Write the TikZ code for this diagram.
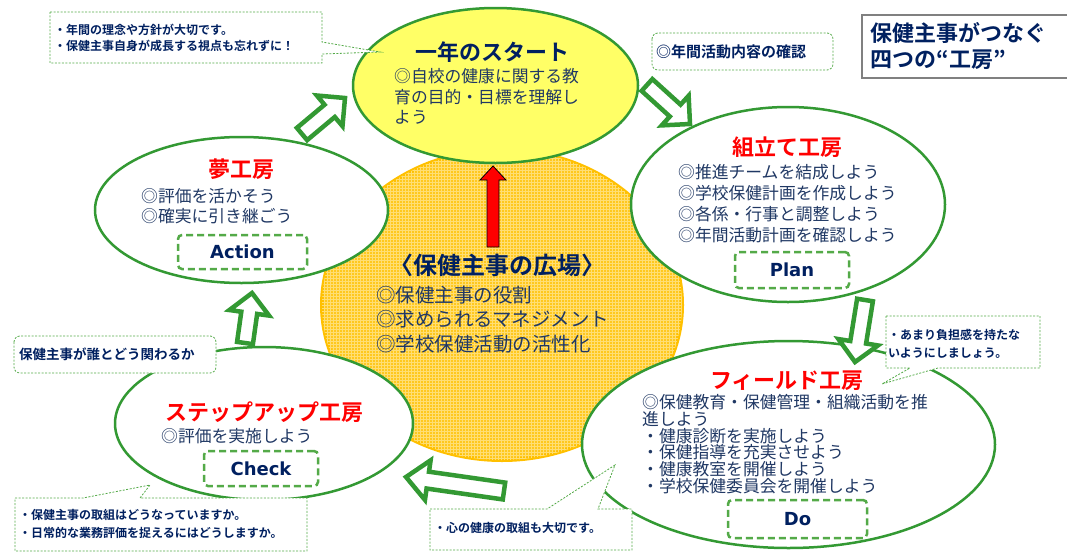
\documentclass[tikz,border=0pt]{standalone}
\usepackage{fontspec}
\setmainfont{Noto Sans CJK JP}[BoldFont={Noto Sans CJK JP Bold}]
\newfontfamily\pdcafont{DejaVu Sans}
\usetikzlibrary{calc,shapes.geometric,patterns}
\definecolor{navy}{RGB}{0,32,96}
\definecolor{textblue}{RGB}{32,56,100}
\definecolor{kgreen}{RGB}{51,153,51}
\definecolor{dgreen}{RGB}{84,170,72}
\definecolor{plazafill}{RGB}{255,200,30}
\definecolor{plazagrid}{RGB}{255,222,115}
\definecolor{plazaline}{RGB}{255,192,0}
\definecolor{startfill}{RGB}{255,255,102}

% block arrow: [style]{tail}{tip}{shaft half width}{head half width}{head length}
\newcommand{\blockarrow}[6][]{%
  \coordinate (neck) at ($(#3)!#6pt!(#2)$);
  \draw[#1] ($(#2)!#4pt!90:(#3)$) -- ($(neck)!#4pt!90:(#3)$) -- ($(neck)!#5pt!90:(#3)$) -- (#3)
    -- ($(neck)!#5pt!-90:(#3)$) -- ($(neck)!#4pt!-90:(#3)$) -- ($(#2)!#4pt!-90:(#3)$) -- cycle;}

\begin{document}
\begin{tikzpicture}[x=1pt,y=-1pt,
  workshop/.style={ellipse,draw=kgreen,line width=2.5pt,fill=white,inner sep=0pt},
  roomtitle/.style={font=\bfseries\fontsize{22}{26}\selectfont,text=red,inner sep=0pt},
  roomtext/.style={font=\fontsize{16.8}{20.5}\selectfont,text=textblue,align=left,inner sep=0pt,anchor=west},
  pdcabox/.style={draw=dgreen,line width=2.5pt,dash pattern=on 7pt off 4pt,rounded corners=4pt,
    font=\pdcafont\bfseries\fontsize{18}{20}\selectfont,text=navy,inner sep=0pt},
  calloutbox/.style={draw=dgreen,line width=0.8pt,dash pattern=on 2pt off 1.5pt,fill=white},
  notetext/.style={font=\bfseries\fontsize{12}{16}\selectfont,text=navy,align=left,inner sep=0pt,anchor=west},
  greenarrow/.style={draw=kgreen,line width=4.5pt,fill=white,line join=miter},
  redarrow/.style={draw=black,line width=0.8pt,fill=red}]
\useasboundingbox (0,0) rectangle (1067,557);

% the plaza in the middle
\node[ellipse,minimum width=360pt,minimum height=310pt,inner sep=0pt,fill=plazafill,draw=plazaline,line width=4pt,
  postaction={pattern=grid,pattern color=plazagrid}] (plaza) at (502,305) {};

% the five rooms
\node[workshop,fill=startfill,minimum width=285pt,minimum height=155pt] (start) at (495.5,85.5) {};
\node[workshop,minimum width=314pt,minimum height=195pt] (assembly) at (788,204.5) {};
\node[workshop,minimum width=293pt,minimum height=146pt] (dream) at (241.5,210) {};
\node[workshop,minimum width=298pt,minimum height=153pt] (stepup) at (264,423.5) {};
\node[workshop,minimum width=413pt,minimum height=207pt] (field) at (788.5,444.5) {};

% red arrow from the plaza to the start
\coordinate (rt) at (493,247);
\coordinate (rh) at (493,166);
\blockarrow[redarrow]{rt}{rh}{6}{13}{14}

\node[font=\bfseries\fontsize{24}{28}\selectfont,text=navy,inner sep=0pt] (plazatitle) at (497,265) {〈保健主事の広場〉};
\node[roomtext,font=\fontsize{19.5}{24.5}\selectfont] (plazatext) at (376,319.5)
  {◎保健主事の役割\\◎求められるマネジメント\\◎学校保健活動の活性化};

\node[roomtitle,text=navy] (starttitle) at (492.5,52) {一年のスタート};
\node[roomtext] (starttext) at (394,96.5) {◎自校の健康に関する教\\育の目的・目標を理解し\\よう};

\node[roomtitle] (assemblytitle) at (787,147) {組立て工房};
\node[roomtext,font=\fontsize{16.8}{21}\selectfont] (assemblytext) at (678,203.5)
  {◎推進チームを結成しよう\\◎学校保健計画を作成しよう\\◎各係・行事と調整しよう\\◎年間活動計画を確認しよう};
\node[pdcabox,minimum width=114pt,minimum height=36pt] (plan) at (792,270) {Plan};

\node[roomtitle] (dreamtitle) at (241.5,169) {夢工房};
\node[roomtext,font=\fontsize{16.8}{20}\selectfont] (dreamtext) at (141,206) {◎評価を活かそう\\◎確実に引き継ごう};
\node[pdcabox,minimum width=129pt,minimum height=34pt] (action) at (242.5,252) {Action};

\node[roomtitle] (stepuptitle) at (264,412) {ステップアップ工房};
\node[roomtext] (stepuptext) at (161,436) {◎評価を実施しよう};
\node[pdcabox,minimum width=114pt,minimum height=35pt] (check) at (261,468.5) {Check};

\node[roomtitle] (fieldtitle) at (787,381) {フィールド工房};
\node[roomtext,font=\fontsize{16.8}{16.8}\selectfont] (fieldtext) at (642,444)
  {◎保健教育・保健管理・組織活動を推\\進しよう\\・健康診断を実施しよう\\・保健指導を充実させよう\\・健康教室を開催しよう\\・学校保健委員会を開催しよう};
\node[pdcabox,minimum width=139pt,minimum height=38pt] (do) at (797.5,519) {Do};

% green arrows round the cycle
\coordinate (a1t) at (302,134);  \coordinate (a1h) at (345,98);
\coordinate (a2t) at (647,85);   \coordinate (a2h) at (690,124);
\coordinate (a3t) at (865,300);  \coordinate (a3h) at (855,362);
\coordinate (a4t) at (504,491);  \coordinate (a4h) at (406,477);
\coordinate (a5t) at (245,343);  \coordinate (a5h) at (252,293);
\blockarrow[greenarrow]{a1t}{a1h}{8}{20}{20}
\blockarrow[greenarrow]{a2t}{a2h}{8}{20}{20}
\blockarrow[greenarrow]{a3t}{a3h}{8}{20}{20}
\blockarrow[greenarrow]{a4t}{a4h}{8.5}{20}{22}
\blockarrow[greenarrow]{a5t}{a5h}{8}{20}{20}

% callouts
\draw[calloutbox] (50,12) -- (322,12) -- (322,42) -- (380,52) -- (322,54) -- (322,63) -- (50,63) -- cycle;
\node[notetext] (note1) at (54,38) {・年間の理念や方針が大切です。\\・保健主事自身が成長する視点も忘れずに！};

\draw[calloutbox,rounded corners=6pt] (652,33) rectangle (833,70);
\node[notetext,font=\bfseries\fontsize{15}{18}\selectfont] (note2) at (656,51.5) {◎年間活動内容の確認};

\draw[calloutbox] (886,316) -- (1040,316) -- (1040,368) -- (938,368) -- (882,384) -- (910,368) -- (886,368) -- cycle;
\node[notetext,font=\bfseries\fontsize{12}{18}\selectfont] (note3) at (888,344) {・あまり負担感を持たな\\いようにしましょう。};

\draw[calloutbox] (430,509) -- (547,509) -- (615,465) -- (598,509) -- (632,509) -- (632,550) -- (430,550) -- cycle;
\node[notetext] (note4) at (434,528) {・心の健康の取組も大切です。};

\draw[calloutbox] (15,498) -- (83,498) -- (150,485) -- (140,498) -- (307,498) -- (307,551) -- (15,551) -- cycle;
\node[notetext,font=\bfseries\fontsize{12}{18}\selectfont] (note5) at (19,524) {・保健主事の取組はどうなっていますか。\\・日常的な業務評価を捉えるにはどうしますか。};

\draw[calloutbox,rounded corners=6pt] (14,336) rectangle (216,373);
\node[notetext,font=\bfseries\fontsize{13.5}{16}\selectfont] (note6) at (19,354.5) {保健主事が誰とどう関わるか};

% title
\node[draw=gray,line width=1.5pt,anchor=north west,text width=197pt,inner xsep=9pt,minimum height=63pt,
  align=left,font=\bfseries\fontsize{22}{26}\selectfont,text=navy] (title) at (861,14) {保健主事がつなぐ\\四つの“工房”};
\end{tikzpicture}
\end{document}
